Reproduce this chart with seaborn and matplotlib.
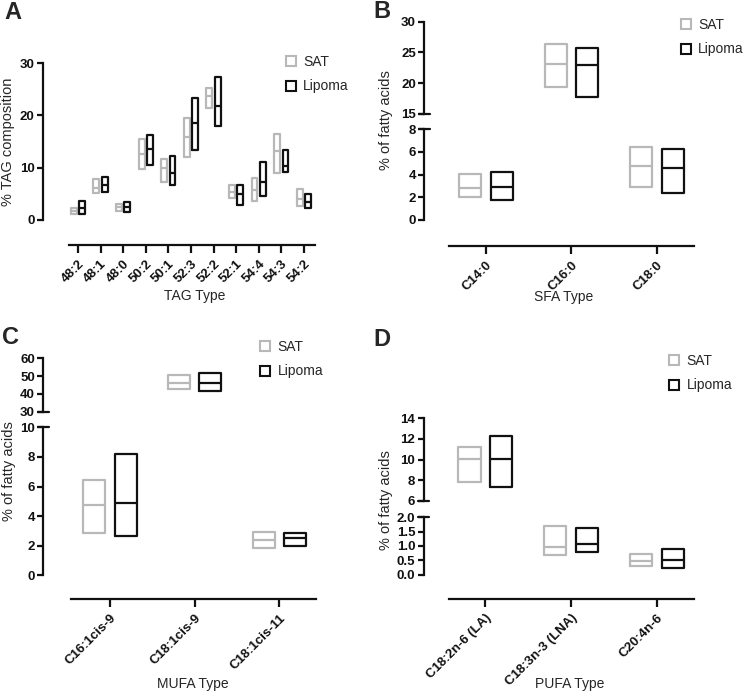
import numpy as np
import pandas as pd
import matplotlib
matplotlib.use("Agg")
import matplotlib.pyplot as plt
import seaborn as sns
from matplotlib.lines import Line2D

W, H = 745, 694

groups = ["SAT", "Lipoma"]
palette = {"SAT": "#b8b8b8", "Lipoma": "#111111"}

# panel A - TAG composition (min, mean, max)
tag_types = ["48:2", "48:1", "48:0", "50:2", "50:1", "52:3", "52:2", "52:1", "54:4", "54:3", "54:2"]
tag_sat_min = [1.2, 5.1, 1.8, 9.8, 7.3, 12.1, 21.4, 4.2, 3.6, 8.9, 2.7]
tag_sat_mean = [1.7, 6.1, 2.4, 12.6, 10.0, 15.8, 23.7, 5.4, 5.7, 13.1, 4.1]
tag_sat_max = [2.2, 7.8, 3.1, 15.5, 11.7, 19.5, 25.3, 6.7, 8.1, 16.5, 5.9]
tag_lip_min = [1.15, 5.4, 1.6, 10.6, 6.7, 13.4, 17.9, 2.9, 4.6, 9.1, 2.2]
tag_lip_mean = [2.2, 6.7, 2.4, 13.6, 8.9, 18.5, 21.8, 5.0, 7.2, 10.4, 3.4]
tag_lip_max = [3.6, 8.3, 3.4, 16.3, 12.3, 23.3, 27.3, 6.6, 11.1, 13.3, 4.9]

# panel B - SFA
sfa_types = ["C14:0", "C16:0", "C18:0"]
sfa_sat_min = [2.0, 19.4, 2.88]
sfa_sat_mean = [2.85, 23.2, 4.8]
sfa_sat_max = [4.03, 26.4, 6.44]
sfa_lip_min = [1.76, 17.7, 2.41]
sfa_lip_mean = [2.9, 22.9, 4.56]
sfa_lip_max = [4.26, 25.7, 6.24]

# panel C - MUFA
mufa_types = ["C16:1cis-9", "C18:1cis-9", "C18:1cis-11"]
mufa_sat_min = [2.88, 42.6, 1.82]
mufa_sat_mean = [4.73, 46.3, 2.39]
mufa_sat_max = [6.44, 50.8, 2.93]
mufa_lip_min = [2.66, 41.5, 1.98]
mufa_lip_mean = [4.86, 45.9, 2.5]
mufa_lip_max = [8.2, 51.6, 2.88]

# panel D - PUFA
pufa_types = ["C18:2n-6 (LA)", "C18:3n-3 (LNA)", "C20:4n-6"]
pufa_sat_min = [7.79, 0.69, 0.30]
pufa_sat_mean = [10.02, 0.98, 0.49]
pufa_sat_max = [11.25, 1.71, 0.71]
pufa_lip_min = [7.37, 0.78, 0.24]
pufa_lip_mean = [10.02, 1.07, 0.51]
pufa_lip_max = [12.28, 1.64, 0.88]


def long_table(cats, sat, lip):
    # floating bars (min to max, line at mean) drawn as boxes:
    # 5 points min,min,mean,max,max -> Q1=min, median=mean, Q3=max
    rows = []
    for grp, (lo, mid, hi) in zip(groups, [sat, lip]):
        for c, a, m, b in zip(cats, lo, mid, hi):
            for v in [a, a, m, b, b]:
                rows.append({"type": c, "group": grp, "value": v})
    return pd.DataFrame(rows)


def px(l, t, r, b):
    return [l / W, 1 - b / H, (r - l) / W, (b - t) / H]


sns.set_style("ticks")
plt.rcParams["font.family"] = ["Liberation Sans", "DejaVu Sans"]
plt.rcParams["axes.linewidth"] = 1.6
plt.rcParams["xtick.major.width"] = 1.6
plt.rcParams["ytick.major.width"] = 1.6
plt.rcParams["xtick.major.size"] = 4.5
plt.rcParams["ytick.major.size"] = 4.5
plt.rcParams["xtick.color"] = "#111111"
plt.rcParams["ytick.color"] = "#111111"
plt.rcParams["axes.edgecolor"] = "#111111"

fig = plt.figure(figsize=(W / 100, H / 100), dpi=100)

TICK_FS = 9.5
LABEL_FS = 10
YLABEL_FS = 10.5


def draw(ax, df, cats):
    sns.boxplot(data=df, x="type", y="value", hue="group", order=cats,
                hue_order=groups, palette=palette, fill=False, whis=0,
                showcaps=False, showfliers=False, width=0.74, gap=0.3,
                linewidth=1.6, legend=False, ax=ax)
    ax.set_xlabel("")
    ax.set_ylabel("")


def style_ticks(ax):
    for lbl in ax.get_xticklabels() + ax.get_yticklabels():
        lbl.set_fontweight("bold")
        lbl.set_fontsize(TICK_FS)
    ax.tick_params(axis="y", pad=1.5)


def add_legend(ax, left, top):
    handles = [Line2D([], [], marker="s", ls="none", mfc="none", mec=palette[g],
                      mew=1.5, ms=6.5) for g in groups]
    ax.legend(handles, groups, loc="upper left", bbox_to_anchor=(left / W, 1 - top / H),
              bbox_transform=fig.transFigure, frameon=False, borderpad=0,
              borderaxespad=0, handlelength=0.8, handletextpad=0.5,
              labelspacing=0.75, fontsize=LABEL_FS)


def bottom_axis(ax, cats, xlim, xbounds, ylim, ybounds, yticks, xlabel, xlab_pos):
    ax.set_xlim(*xlim)
    ax.set_ylim(*ylim)
    sns.despine(ax=ax)
    ax.spines["left"].set_bounds(*ybounds)
    ax.spines["bottom"].set_bounds(*xbounds)
    ax.set_yticks(yticks)
    ax.set_xticks(range(len(cats)))
    ax.set_xticklabels(cats, rotation=45, ha="right", rotation_mode="anchor")
    ax.tick_params(axis="x", length=6)
    ax.set_xlabel(xlabel, fontsize=LABEL_FS)
    ax.xaxis.set_label_coords(xlab_pos[0] / W, 1 - xlab_pos[1] / H, transform=fig.transFigure)
    style_ticks(ax)


def upper_axis(ax, xlim, ylim, yticks):
    ax.set_xlim(*xlim)
    ax.set_ylim(*ylim)
    sns.despine(ax=ax, bottom=True)
    ax.set_xticks([])
    ax.set_yticks(yticks)
    style_ticks(ax)


def break_marks(ax_up, ax_low, width_px):
    d = 5.5 / width_px
    ax_up.plot([-d, d], [0, 0], transform=ax_up.transAxes, color="#111111", lw=1.6, clip_on=False)
    ax_low.plot([-d, d], [1, 1], transform=ax_low.transAxes, color="#111111", lw=1.6, clip_on=False)


def set_ylabel(ax, text, x_right, yc):
    ax.set_ylabel(text, fontsize=YLABEL_FS)
    ax.yaxis.set_label_coords(x_right / W, 1 - yc / H, transform=fig.transFigure)


# ---- A ----
axA = fig.add_axes(px(43, 63, 315, 245))
draw(axA, long_table(tag_types, (tag_sat_min, tag_sat_mean, tag_sat_max),
                     (tag_lip_min, tag_lip_mean, tag_lip_max)), tag_types)
bottom_axis(axA, tag_types, (-1.549, 10.49), (-0.40, 10.49), (-4.78, 30), (0, 30),
            [0, 10, 20, 30], "TAG Type", (195, 289))
set_ylabel(axA, "% TAG composition", 15, 142)
add_legend(axA, 285, 55)

# ---- B ----
sfa_df = long_table(sfa_types, (sfa_sat_min, sfa_sat_mean, sfa_sat_max),
                    (sfa_lip_min, sfa_lip_mean, sfa_lip_max))
axB = fig.add_axes(px(424.3, 129.3, 693.7, 245.7))
axB2 = fig.add_axes(px(424.3, 21.7, 693.7, 114))
draw(axB, sfa_df, sfa_types)
draw(axB2, sfa_df, sfa_types)
bottom_axis(axB, sfa_types, (-0.722, 2.43), (-0.438, 2.43), (-2.27, 8), (0, 8),
            [0, 2, 4, 6, 8], "SFA Type", (563.7, 290))
upper_axis(axB2, (-0.722, 2.43), (15, 30), [15, 20, 25, 30])
break_marks(axB2, axB, 269.4)
set_ylabel(axB, "% of fatty acids", 393, 120)
add_legend(axB2, 680, 18)

# ---- C ----
mufa_df = long_table(mufa_types, (mufa_sat_min, mufa_sat_mean, mufa_sat_max),
                     (mufa_lip_min, mufa_lip_mean, mufa_lip_max))
axC = fig.add_axes(px(43.3, 427.3, 316, 599))
axC2 = fig.add_axes(px(43.3, 358.3, 316, 411.7))
draw(axC, mufa_df, mufa_types)
draw(axC2, mufa_df, mufa_types)
bottom_axis(axC, mufa_types, (-0.788, 2.434), (-0.465, 2.434), (-1.6, 10), (0, 10),
            [0, 2, 4, 6, 8, 10], "MUFA Type", (193, 677))
upper_axis(axC2, (-0.788, 2.434), (30, 60), [30, 40, 50, 60])
break_marks(axC2, axC, 272.7)
set_ylabel(axC, "% of fatty acids", 16, 471)
add_legend(axC2, 259.7, 340)

# ---- D ----
pufa_df = long_table(pufa_types, (pufa_sat_min, pufa_sat_mean, pufa_sat_max),
                     (pufa_lip_min, pufa_lip_mean, pufa_lip_max))
axD = fig.add_axes(px(423.7, 517.3, 693.7, 599))
axD2 = fig.add_axes(px(423.7, 418.3, 693.7, 500.7))
draw(axD, pufa_df, pufa_types)
draw(axD2, pufa_df, pufa_types)
bottom_axis(axD, pufa_types, (-0.718, 2.43), (-0.426, 2.43), (-0.847, 2.0), (0, 2.0),
            [0, 0.5, 1.0, 1.5, 2.0], "PUFA Type", (570, 677))
axD.set_yticklabels(["0.0", "0.5", "1.0", "1.5", "2.0"])
style_ticks(axD)
upper_axis(axD2, (-0.718, 2.43), (6, 14), [6, 8, 10, 12, 14])
break_marks(axD2, axD, 270)
set_ylabel(axD, "% of fatty acids", 393, 500)
add_legend(axD2, 668.4, 354)

# panel letters
for letter, x, y in [("A", 4, 1), ("B", 373, 0), ("C", 2, 326), ("D", 373, 328)]:
    fig.text(x / W, 1 - y / H, letter, fontsize=17, fontweight="bold", va="top", ha="left")

fig.savefig("out.png", dpi=100)
